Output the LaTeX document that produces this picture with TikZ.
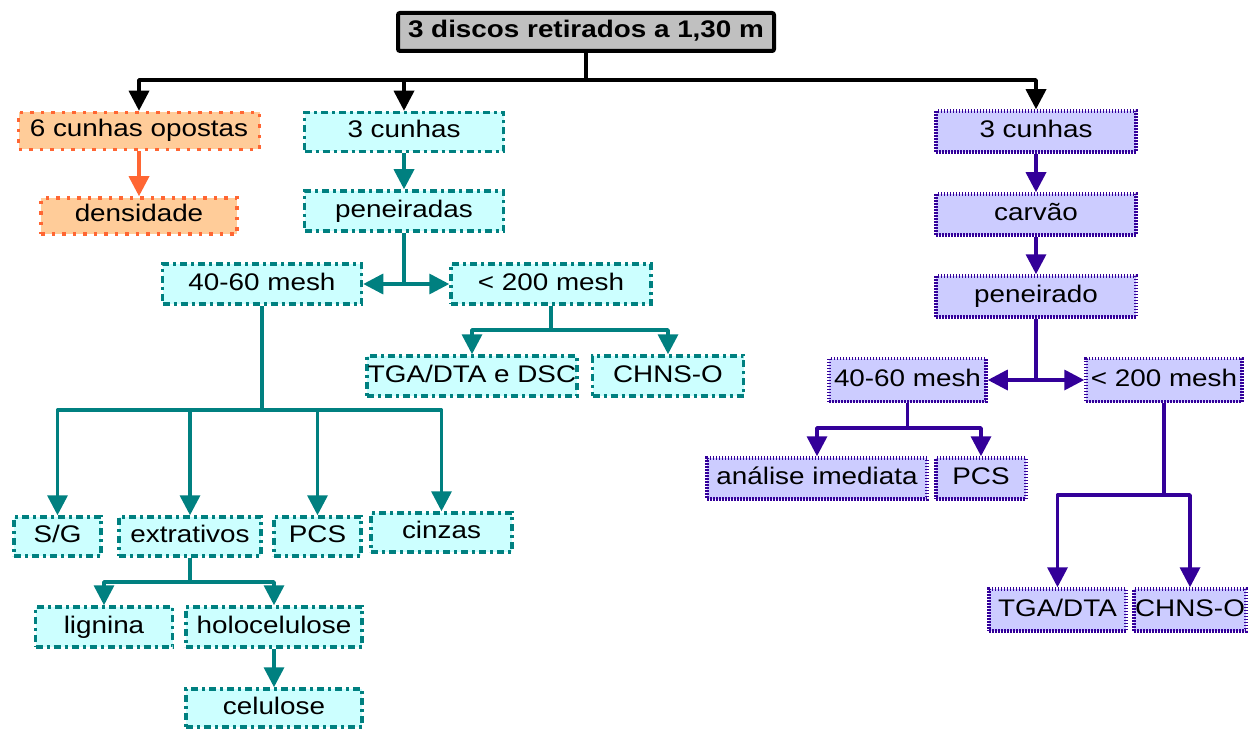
\documentclass[tikz,border=0pt]{standalone}
\usepackage{fontspec}
\setmainfont{Liberation Sans}[FakeStretch=1.16]
\usetikzlibrary{arrows.meta}
\definecolor{tealc}{HTML}{008080}
\definecolor{tealfill}{HTML}{CCFFFF}
\definecolor{orc}{HTML}{FF6633}
\definecolor{orfill}{HTML}{FFCC99}
\definecolor{puc}{HTML}{330099}
\definecolor{pufill}{HTML}{CCCCFF}
\definecolor{tifill}{HTML}{C0C0C0}
\begin{document}
\begin{tikzpicture}[x=1pt,y=-1pt,
  box/.style={inner sep=0pt, font=\fontsize{24}{28}\selectfont, text height=17pt, text depth=5pt, line width=3.5pt},
  tbox/.style={box, draw=tealc, fill=tealfill, dash pattern=on 7pt off 4pt on 3pt off 4pt},
  obox/.style={box, draw=orc, fill=orfill, dash pattern=on 3.5pt off 7pt},
  pbox/.style={box, draw=puc, fill=pufill, dash pattern=on 1.5pt off 1.5pt},
  tip/.tip={Triangle[width=20pt,length=20pt]},
  con/.style={line width=3.5pt, line join=round},
  barr/.style={con, draw=black, -tip},
  oarr/.style={con, draw=orc, -tip},
  tarr/.style={con, draw=tealc, -tip},
  tline/.style={con, draw=tealc},
  tdbl/.style={con, draw=tealc, tip-tip},
  parr/.style={con, draw=puc, -tip},
  pline/.style={con, draw=puc},
  pdbl/.style={con, draw=puc, tip-tip},
]
\useasboundingbox (0,0) rectangle (1252,730);

% title
\node[box, draw=black, fill=tifill, line width=4pt, rounded corners=2pt,
      font=\fontsize{24}{28}\selectfont\bfseries,
      minimum width=376pt, minimum height=38pt] (title) at (586,32) {3 discos retirados a 1,30 m};

% orange branch
\node[obox, minimum width=241pt, minimum height=37pt] (o1) at (139,131) {6 cunhas opostas};
\node[obox, minimum width=196pt, minimum height=36pt] (o2) at (139,216) {densidade};

% teal branch
\node[tbox, minimum width=199pt, minimum height=39pt] (t1) at (404,132) {3 cunhas};
\node[tbox, minimum width=199pt, minimum height=40pt] (t2) at (404,211) {peneiradas};
\node[tbox, minimum width=199pt, minimum height=40pt] (t3) at (262,284) {40-60 mesh};
\node[tbox, minimum width=200pt, minimum height=40pt] (t4) at (551,284) {< 200 mesh};
\node[tbox, minimum width=210pt, minimum height=40pt] (t5) at (472,376) {TGA/DTA e DSC};
\node[tbox, minimum width=151pt, minimum height=40pt] (t6) at (668,376) {CHNS-O};
\node[tbox, minimum width=87pt, minimum height=39pt] (t7) at (57.5,536.5) {S/G};
\node[tbox, minimum width=142pt, minimum height=39pt] (t8) at (190,536.5) {extrativos};
\node[tbox, minimum width=87pt, minimum height=39pt] (t9) at (317.5,536.5) {PCS};
\node[tbox, minimum width=141pt, minimum height=39pt] (t10) at (441.5,532.5) {cinzas};
\node[tbox, minimum width=137pt, minimum height=40pt] (t11) at (104,627) {lignina};
\node[tbox, minimum width=176pt, minimum height=40pt] (t12) at (274,627) {holocelulose};
\node[tbox, minimum width=176pt, minimum height=38pt] (t13) at (274,708) {celulose};

% purple branch
\node[pbox, minimum width=200pt, minimum height=41pt] (p1) at (1036,131.5) {3 cunhas};
\node[pbox, minimum width=200pt, minimum height=41pt] (p2) at (1036,214.5) {carvão};
\node[pbox, minimum width=200pt, minimum height=41pt] (p3) at (1036,296.5) {peneirado};
\node[pbox, minimum width=157pt, minimum height=43pt] (p4) at (907.5,380) {40-60 mesh};
\node[pbox, minimum width=156pt, minimum height=43pt] (p5) at (1164,380) {< 200 mesh};
\node[pbox, minimum width=220pt, minimum height=41pt] (p6) at (817,478.5) {análise imediata};
\node[pbox, minimum width=90pt, minimum height=41pt] (p7) at (981,478.5) {PCS};
\node[pbox, minimum width=137pt, minimum height=42pt] (p8) at (1057.5,610) {TGA/DTA};
\node[pbox, minimum width=112pt, minimum height=42pt] (p9) at (1190,610) {CHNS-O};

% black connectors
\coordinate (jb) at (586,80);
\draw[barr] (title.south) -- (jb) -| (o1.north);
\draw[barr] (jb) -| (t1.north);
\draw[barr] (jb) -| (p1.north);

% orange
\draw[oarr] (o1.south) -- (o2.north);

% teal
\draw[tarr] (t1.south) -- (t2.north);
\coordinate (jt2) at (404,284);
\draw[tline] (t2.south) -- (jt2);
\draw[tdbl] (t3.east) -- (t4.west);
\coordinate (jt4) at (551,330);
\draw[tarr] (t4.south) -- (jt4) -| (t5.north);
\draw[tarr] (jt4) -| (t6.north);
\coordinate (jt3) at (262,410);
\draw[tarr] (t3.south) -- (jt3) -| (t7.north);
\draw[tarr] (jt3) -| (t8.north);
\draw[tarr] (jt3) -| (t9.north);
\draw[tarr] (jt3) -| (t10.north);
\coordinate (jt8) at (190,582);
\draw[tarr] (t8.south) -- (jt8) -| (t11.north);
\draw[tarr] (jt8) -| (t12.north);
\draw[tarr] (t12.south) -- (t13.north);

% purple
\draw[parr] (p1.south) -- (p2.north);
\draw[parr] (p2.south) -- (p3.north);
\coordinate (jp3) at (1036,380);
\draw[pline] (p3.south) -- (jp3);
\draw[pdbl] (p4.east) -- (p5.west);
\coordinate (jp4) at (907.5,428);
\draw[parr] (p4.south) -- (jp4) -| (p6.north);
\draw[parr] (jp4) -| (p7.north);
\coordinate (jp5) at (1164,495);
\draw[parr] (p5.south) -- (jp5) -| (p8.north);
\draw[parr] (jp5) -| (p9.north);
\end{tikzpicture}
\end{document}
